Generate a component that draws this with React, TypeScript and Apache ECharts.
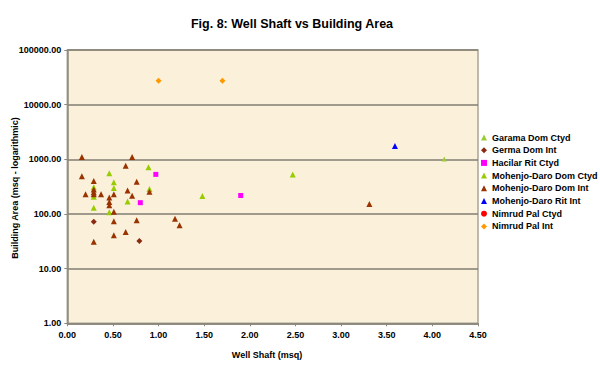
import React, { useEffect, useRef } from "react";
import * as echarts from "echarts";

// Well shaft (msq) and building area (msq) per series
const garamaDomCtydX = [4.13];
const garamaDomCtydY = [1010];

const germaDomIntX = [0.29, 0.79];
const germaDomIntY = [72, 32];

const hacilarRitCtydX = [0.97, 0.8, 1.9];
const hacilarRitCtydY = [530, 161, 218];

const mdDomCtydX = [0.46, 0.51, 0.51, 0.29, 0.29, 0.29, 0.46, 0.66, 0.89, 0.9, 1.48, 2.47];
const mdDomCtydY = [555, 380, 300, 307, 207, 130, 107, 170, 715, 285, 213, 530];

const mdDomIntX = [
  0.16, 0.71, 0.64, 0.16, 0.29, 0.76, 0.29, 0.29, 0.66, 0.9, 0.2, 0.29, 0.37, 0.51,
  0.71, 0.46, 0.46, 0.46, 0.51, 0.51, 0.76, 0.64, 0.51, 0.29, 1.18, 1.23, 3.31,
];
const mdDomIntY = [
  1100, 1100, 760, 490, 400, 390, 280, 250, 270, 255, 230, 230, 230, 230,
  215, 200, 165, 145, 110, 74, 77, 47, 41, 31, 82, 62, 152,
];

const mdRitIntX = [3.59];
const mdRitIntY = [1750];

const nimrudPalCtydX: number[] = [];
const nimrudPalCtydY: number[] = [];

const nimrudPalIntX = [1.0, 1.7];
const nimrudPalIntY = [27400, 27400];

const xTicks = { min: 0, max: 4.5, interval: 0.5 };
const yTicks = { min: 1, max: 100000 };

const FONT = 'Arial, "Liberation Sans", sans-serif';

const zip = (xs: number[], ys: number[]) => xs.map((x, i) => [x, ys[i]]);

export default function App() {
  const ref = useRef<HTMLDivElement>(null);

  useEffect(() => {
    if (!ref.current) return;
    const chart = echarts.init(ref.current, undefined, { renderer: "svg" });

    const mk = (name: string, xs: number[], ys: number[], symbol: string, size: number, color: string) => ({
      name,
      type: "scatter",
      data: zip(xs, ys),
      symbol,
      symbolSize: size,
      itemStyle: { color, opacity: 1 },
      emphasis: { disabled: true },
    });

    chart.setOption({
      animation: false,
      backgroundColor: "#ffffff",
      textStyle: { fontFamily: FONT },
      grid: {
        left: 67.3,
        top: 50,
        right: 122,
        bottom: 44.7,
        show: true,
        backgroundColor: "#FBF1DA",
        borderColor: "#aaa496",
        borderWidth: 1.5,
      },
      xAxis: {
        type: "value",
        min: xTicks.min,
        max: xTicks.max,
        interval: xTicks.interval,
        axisLine: { show: true, lineStyle: { color: "#8d887c", width: 1.5 } },
        axisTick: { show: true, length: 3, lineStyle: { color: "#8d887c" } },
        splitLine: { show: false },
        axisLabel: {
          margin: 7,
          color: "#000",
          fontSize: 9,
          fontWeight: "bold",
          fontFamily: FONT,
          formatter: (v: number) => v.toFixed(2),
        },
      },
      yAxis: {
        type: "log",
        logBase: 10,
        min: yTicks.min,
        max: yTicks.max,
        axisLine: { show: true, lineStyle: { color: "#8d887c", width: 1.5 } },
        axisTick: { show: true, length: 3, lineStyle: { color: "#8d887c" } },
        splitLine: { show: true, lineStyle: { color: "#807c70", width: 1.5 } },
        minorSplitLine: { show: false },
        axisLabel: {
          margin: 6,
          color: "#000",
          fontSize: 9,
          fontWeight: "bold",
          fontFamily: FONT,
          formatter: (v: number) => v.toFixed(2),
        },
      },
      legend: {
        orient: "vertical",
        left: 481,
        top: 133,
        padding: 0,
        itemWidth: 6,
        itemHeight: 6,
        itemGap: 3.7,
        textStyle: { fontSize: 9, fontWeight: "bold", color: "#000", fontFamily: FONT },
        selectedMode: false,
      },
      graphic: [
        {
          type: "text",
          x: 292,
          y: 24,
          style: {
            text: "Fig. 8: Well Shaft vs Building Area",
            textAlign: "center",
            textVerticalAlign: "middle",
            fontSize: 12.5,
            fontWeight: "bold",
            fontFamily: FONT,
            fill: "#000",
          },
        },
        {
          type: "text",
          x: 15,
          y: 188,
          rotation: Math.PI / 2,
          style: {
            text: "Building Area (msq - logarithmic)",
            textAlign: "center",
            textVerticalAlign: "middle",
            fontSize: 9,
            fontWeight: "bold",
            fontFamily: FONT,
            fill: "#000",
          },
        },
        {
          type: "text",
          x: 267,
          y: 355,
          style: {
            text: "Well Shaft (msq)",
            textAlign: "center",
            textVerticalAlign: "middle",
            fontSize: 9,
            fontWeight: "bold",
            fontFamily: FONT,
            fill: "#000",
          },
        },
      ],
      series: [
        mk("Garama Dom Ctyd", garamaDomCtydX, garamaDomCtydY, "triangle", 5, "#9ACD32"),
        mk("Germa Dom Int", germaDomIntX, germaDomIntY, "diamond", 6, "#8B2A10"),
        mk("Hacilar Rit Ctyd", hacilarRitCtydX, hacilarRitCtydY, "rect", 5, "#FF00FF"),
        mk("Mohenjo-Daro Dom Ctyd", mdDomCtydX, mdDomCtydY, "triangle", 6, "#99CC00"),
        mk("Mohenjo-Daro Dom Int", mdDomIntX, mdDomIntY, "triangle", 6, "#993300"),
        mk("Mohenjo-Daro Rit Int", mdRitIntX, mdRitIntY, "triangle", 6, "#0000FF"),
        mk("Nimrud Pal Ctyd", nimrudPalCtydX, nimrudPalCtydY, "circle", 5, "#FF0000"),
        mk("Nimrud Pal Int", nimrudPalIntX, nimrudPalIntY, "diamond", 6, "#FF9900"),
      ],
    });

    return () => chart.dispose();
  }, []);

  return (
    <div
      ref={ref}
      style={{ position: "absolute", left: 0, top: 0, width: 600, height: 368 }}
    />
  );
}
